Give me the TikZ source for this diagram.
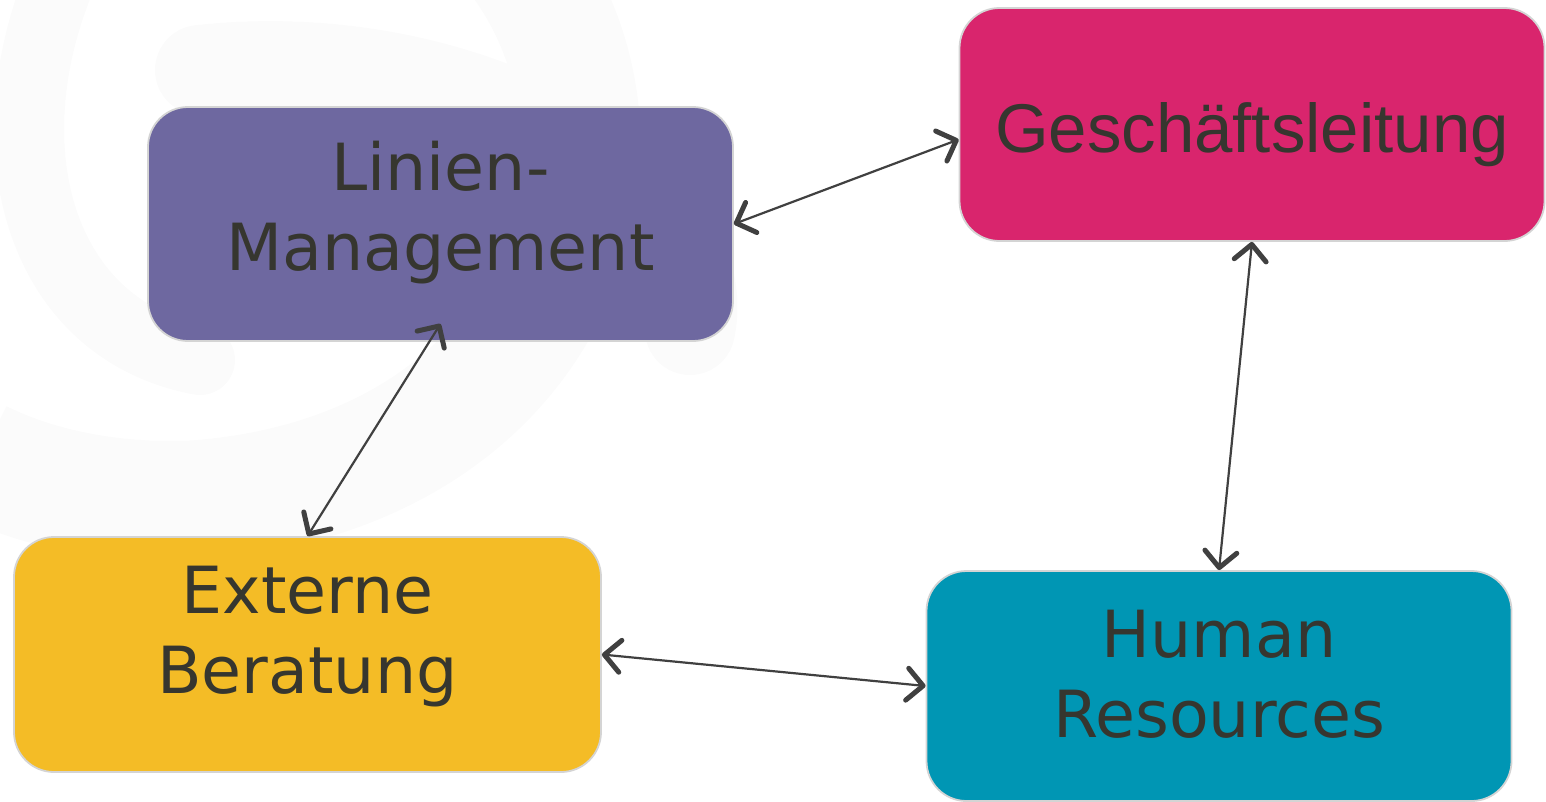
\documentclass[tikz,border=0pt]{standalone}
\usepackage{fontspec}
\setmainfont{DejaVu Sans}
\newfontfamily\arialfont{Liberation Sans}
\usetikzlibrary{arrows.meta}
\definecolor{lmcol}{HTML}{6E68A0}
\definecolor{glcol}{HTML}{D9256D}
\definecolor{ebcol}{HTML}{F4BC26}
\definecolor{hrcol}{HTML}{0096B4}
\definecolor{txtcol}{HTML}{36362F}
\definecolor{arrcol}{HTML}{404040}
\definecolor{rimcol}{HTML}{D4D4D4}
\definecolor{swirl}{HTML}{FBFBFB}

\begin{document}
\begin{tikzpicture}[x=1pt,y=-1pt,
   box/.style={draw=rimcol, line width=1.8pt, rounded corners=40pt, minimum width=585pt, minimum height=233pt},
   boxtext/.style={text=txtcol, align=center, font=\fontsize{65}{80}\selectfont},
   link/.style={arrcol, line width=2.2pt, {Straight Barb[length=16pt,width=32pt,line width=5pt,round]}-{Straight Barb[length=16pt,width=32pt,line width=5pt,round]}}]
   \useasboundingbox (0,0) rectangle (1546,801);
   % faint swirl in the background
   \draw [swirl, line width=90pt, line cap=round] (200,70) .. controls (470,40) and (720,190) .. (690,330);
   \draw [swirl, line width=120pt] (520,-40) .. controls (660,150) and (560,470) .. (200,500) .. controls (120,505) and (40,490) .. (-20,460);
   \draw [swirl, line width=70pt, line cap=round] (60,-20) .. controls (-10,150) and (40,330) .. (200,360);
   % boxes
   \node [box, fill=lmcol, minimum height=234pt, label={[boxtext, yshift=11.5pt]center:{Linien-\\Management}}] (lm) at (440.5,224) {};
   \node [box, fill=glcol, label={[boxtext, yshift=-10pt, font=\arialfont\fontsize{69}{80}\selectfont]center:Geschäftsleitung}] (gl) at (1252,124.5) {};
   \node [box, fill=ebcol, minimum width=587pt, minimum height=235pt, label={[boxtext, yshift=18pt]center:{Externe\\Beratung}}] (eb) at (307.5,654.5) {};
   \node [box, fill=hrcol, minimum height=230pt, label={[boxtext, yshift=11.5pt]center:{Human\\Resources}}] (hr) at (1219,686) {};
   % connectors
   \draw [link] (lm.east) -- ([yshift=-15pt]gl.west);
   \draw [link] ([yshift=18pt]lm.south) -- (eb.north);
   \draw [link] (gl.south) -- (hr.north);
   \draw [link] (eb.east) -- (hr.west);
\end{tikzpicture}
\end{document}
